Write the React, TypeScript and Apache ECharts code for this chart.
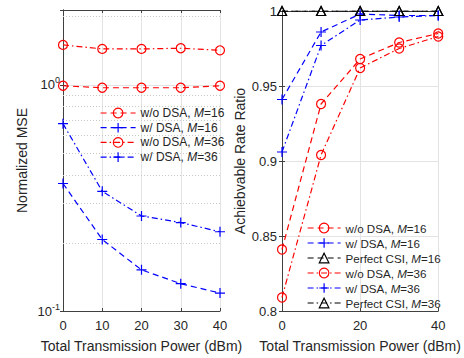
import React, { useEffect, useRef } from 'react';
import * as echarts from 'echarts';

const power = [0, 10, 20, 30, 40];

const mseWoDsaM16 = [0.99, 0.97, 0.97, 0.97, 0.99];
const mseWDsaM16 = [0.366, 0.207, 0.152, 0.132, 0.12];
const mseWoDsaM36 = [1.5, 1.44, 1.44, 1.45, 1.42];
const mseWDsaM36 = [0.673, 0.338, 0.263, 0.246, 0.224];

const rateWoDsaM16 = [0.841, 0.938, 0.968, 0.979, 0.985];
const rateWDsaM16 = [0.941, 0.986, 0.998, 0.997, 0.997];
const ratePerfectM16 = [1, 1, 1, 1, 1];
const rateWoDsaM36 = [0.809, 0.904, 0.962, 0.975, 0.983];
const rateWDsaM36 = [0.906, 0.977, 0.994, 0.996, 0.997];
const ratePerfectM36 = [1, 1, 1, 1, 1];

const mseMinorGrid = [0.2, 0.3, 0.4, 0.5, 0.6, 0.7, 0.8, 0.9, 2];
const mseMin = 0.1;
const mseMax = 2.14;

const NAMES = {
  woM16: 'w/o DSA, M=16',
  wM16: 'w/ DSA, M=16',
  pM16: 'Perfect CSI, M=16',
  woM36: 'w/o DSA, M=36',
  wM36: 'w/ DSA, M=36',
  pM36: 'Perfect CSI, M=36',
};

const RED = '#ff0000';
const BLUE = '#0000ff';
const BLACK = '#000000';
const TXT = '#262626';
const AXIS = '#404040';
const GRID = '#e3e3e3';
const FONT = "'Liberation Sans', Arial, sans-serif";
const DASH = [6, 4];
const DASHDOT = [6, 3, 1.5, 3];
const PLUS = 'path://M5,0L5,10M0,5L10,5';
const LW = 1.2;

const styles: Record<string, any> = {
  [NAMES.woM16]: { color: RED, dash: DASH, symbol: 'circle', size: 9 },
  [NAMES.wM16]: { color: BLUE, dash: DASH, symbol: PLUS, size: 10 },
  [NAMES.pM16]: { color: BLACK, dash: DASH, symbol: 'triangle', size: 9 },
  [NAMES.woM36]: { color: RED, dash: DASHDOT, symbol: 'circle', size: 9 },
  [NAMES.wM36]: { color: BLUE, dash: DASHDOT, symbol: PLUS, size: 10 },
  [NAMES.pM36]: { color: BLACK, dash: DASHDOT, symbol: 'triangle', size: 9 },
};

function mkSeries(name: string, values: number[], xi: number, yi: number) {
  const s = styles[name];
  return {
    type: 'line',
    name,
    xAxisIndex: xi,
    yAxisIndex: yi,
    data: power.map((p, i) => [p, values[i]]),
    symbol: s.symbol,
    symbolSize: s.size,
    showAllSymbol: true,
    z: 3,
    lineStyle: { color: s.color, width: LW, type: s.dash },
    itemStyle: { color: 'rgba(0,0,0,0)', borderColor: s.color, borderWidth: LW },
  };
}

function legendItem(name: string) {
  const s = styles[name];
  return {
    name,
    itemStyle: { color: 'rgba(0,0,0,0)', borderColor: s.color, borderWidth: LW },
    lineStyle: { color: s.color, width: LW, type: s.dash },
  };
}

const isPow10 = (v: number) => Math.abs(Math.log10(v) - Math.round(Math.log10(v))) < 1e-6;

export default function App() {
  const ref = useRef<HTMLDivElement>(null);
  useEffect(() => {
    if (!ref.current) return;
    const chart = echarts.init(ref.current, undefined, { renderer: 'svg' });
    const tickLabel = { color: TXT, fontSize: 13, fontFamily: FONT };
    const nameStyle = { color: TXT, fontSize: 14, fontFamily: FONT };
    const axisLine = { show: true, lineStyle: { color: AXIS, width: 1 } };
    const tick = { show: true, inside: true, length: 3, lineStyle: { color: AXIS } };
    const legendText = (fs: number) => ({
      color: TXT,
      fontSize: fs,
      fontFamily: FONT,
      lineHeight: 12,
      rich: { i: { fontStyle: 'italic', fontSize: fs, color: TXT, fontFamily: FONT } },
    });
    const fmt = (n: string) => n.replace('M=', '{i|M}=');

    const option: any = {
      animation: false,
      textStyle: { fontFamily: FONT },
      grid: [
        { left: 63, top: 10, width: 157, height: 302, show: false },
        { left: 282, top: 11, width: 157, height: 302, show: false },
      ],
      xAxis: [
        {
          type: 'value', gridIndex: 0, min: 0, max: 40, interval: 10, position: 'bottom',
          name: 'Total Transmission Power (dBm)', nameLocation: 'middle', nameGap: 28, nameTextStyle: nameStyle,
          axisLine, axisTick: tick, axisLabel: { ...tickLabel, margin: 8 },
          splitLine: { show: true, lineStyle: { color: GRID, width: 1 } },
        },
        {
          type: 'value', gridIndex: 0, min: 0, max: 40, interval: 10, position: 'top',
          axisLine, axisTick: tick, axisLabel: { show: false }, splitLine: { show: false },
        },
        {
          type: 'value', gridIndex: 1, min: 0, max: 40, interval: 20, position: 'bottom',
          name: 'Total Transmission Power (dBm)', nameLocation: 'middle', nameGap: 28, nameTextStyle: nameStyle,
          axisLine, axisTick: tick, axisLabel: { ...tickLabel, margin: 8 },
          splitLine: { show: true, lineStyle: { color: GRID, width: 1 } },
        },
        {
          type: 'value', gridIndex: 1, min: 0, max: 40, interval: 20, position: 'top',
          axisLine, axisTick: tick, axisLabel: { show: false }, splitLine: { show: false },
        },
      ],
      yAxis: [
        {
          type: 'log', logBase: 10, gridIndex: 0, min: mseMin, max: mseMax, position: 'left',
          name: 'Normalized MSE', nameLocation: 'middle', nameGap: 34, nameRotate: 90, nameTextStyle: nameStyle,
          axisLine, axisTick: tick,
          axisLabel: {
            margin: 3,
            formatter: (v: number) => {
              if (!isPow10(v)) return '';
              const e = Math.round(Math.log10(v));
              return '{b|10}{s|' + (e < 0 ? '-' + -e : String(e)) + '}';
            },
            rich: {
              b: { fontSize: 13, color: TXT, fontFamily: FONT, lineHeight: 18 },
              s: { fontSize: 9, color: TXT, fontFamily: FONT, lineHeight: 10, verticalAlign: 'top' },
            },
          },
          splitLine: { show: true, lineStyle: { color: GRID, width: 1 } },
        },
        {
          type: 'log', logBase: 10, gridIndex: 0, min: mseMin, max: mseMax, position: 'right',
          axisLine, axisTick: tick, axisLabel: { show: false }, splitLine: { show: false },
        },
        {
          type: 'value', gridIndex: 1, min: 0.8, max: 1, interval: 0.05, position: 'left',
          name: 'Achiebvable Rate Ratio', nameLocation: 'middle', nameGap: 35, nameRotate: 90, nameTextStyle: nameStyle,
          axisLine, axisTick: tick, axisLabel: { ...tickLabel, margin: 5 },
          splitLine: { show: true, lineStyle: { color: GRID, width: 1 } },
        },
        {
          type: 'value', gridIndex: 1, min: 0.8, max: 1, interval: 0.05, position: 'right',
          axisLine, axisTick: tick, axisLabel: { show: false }, splitLine: { show: false },
        },
      ],
      legend: [
        {
          orient: 'vertical', left: 95, top: 102, itemWidth: 35, itemHeight: 12, itemGap: 2.7,
          selectedMode: false, formatter: fmt, textStyle: legendText(12),
          data: [NAMES.woM16, NAMES.wM16, NAMES.woM36, NAMES.wM36].map(legendItem),
        },
        {
          orient: 'vertical', left: 302, top: 217, itemWidth: 33, itemHeight: 12, itemGap: 3.0,
          selectedMode: false, formatter: fmt, textStyle: legendText(11.6),
          data: [NAMES.woM16, NAMES.wM16, NAMES.pM16, NAMES.woM36, NAMES.wM36, NAMES.pM36].map(legendItem),
        },
      ],
      series: [
        {
          type: 'line', name: '_minor', xAxisIndex: 0, yAxisIndex: 0, data: [], z: 1,
          markLine: {
            silent: true, symbol: 'none', label: { show: false }, z: 1,
            lineStyle: { color: '#c8c8c8', width: 1, type: [1, 2] },
            data: mseMinorGrid.map((v) => ({ yAxis: v })),
          },
        },
        mkSeries(NAMES.woM16, mseWoDsaM16, 0, 0),
        mkSeries(NAMES.wM16, mseWDsaM16, 0, 0),
        mkSeries(NAMES.woM36, mseWoDsaM36, 0, 0),
        mkSeries(NAMES.wM36, mseWDsaM36, 0, 0),
        mkSeries(NAMES.woM16, rateWoDsaM16, 2, 2),
        mkSeries(NAMES.wM16, rateWDsaM16, 2, 2),
        mkSeries(NAMES.pM16, ratePerfectM16, 2, 2),
        mkSeries(NAMES.woM36, rateWoDsaM36, 2, 2),
        mkSeries(NAMES.wM36, rateWDsaM36, 2, 2),
        mkSeries(NAMES.pM36, ratePerfectM36, 2, 2),
      ],
    };
    chart.setOption(option);
    return () => chart.dispose();
  }, []);
  return <div ref={ref} style={{ position: 'absolute', left: 0, top: 0, width: 464, height: 358, background: '#fff' }} />;
}
